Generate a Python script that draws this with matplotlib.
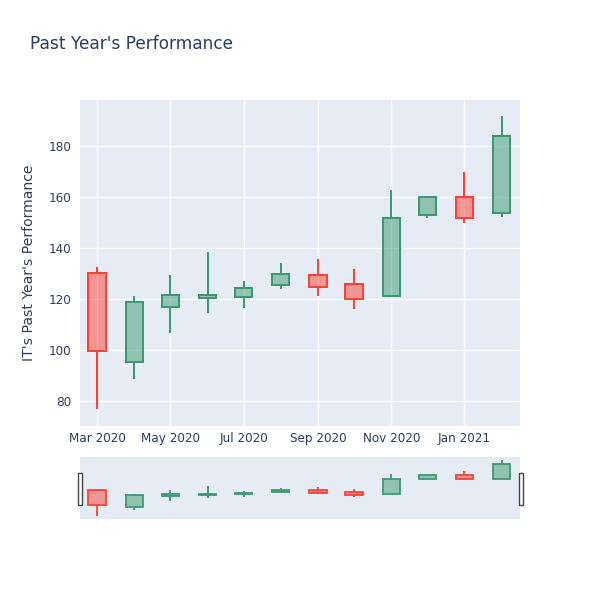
import matplotlib
matplotlib.use("Agg")
import matplotlib.pyplot as plt
import matplotlib.dates as mdates
from matplotlib.patches import Rectangle
import numpy as np
import datetime as dt

plt.rcParams['font.family'] = ['DejaVu Sans']

months = ["2020-03-01", "2020-04-01", "2020-05-01", "2020-06-01", "2020-07-01", "2020-08-01",
          "2020-09-01", "2020-10-01", "2020-11-01", "2020-12-01", "2021-01-01", "2021-02-01"]
open_ = [130.2, 95.4, 117.0, 120.3, 120.8, 125.5, 129.4, 125.9, 121.3, 152.9, 159.9, 153.6]
high = [132.7, 121.3, 129.5, 138.5, 127.1, 134.2, 135.8, 131.6, 162.7, 160.5, 169.8, 191.8]
low = [76.7, 88.7, 106.5, 114.4, 116.4, 123.8, 121.2, 116.0, 121.0, 151.9, 149.7, 152.2]
close = [99.5, 118.7, 121.6, 121.5, 124.4, 129.8, 124.8, 119.9, 151.9, 160.1, 151.8, 183.9]

title = "Past Year's Performance"
ylabel = "IT's Past Year's Performance"
ytick_vals = [80, 100, 120, 140, 160, 180]
xtick_dates = ["2020-03-01", "2020-05-01", "2020-07-01", "2020-09-01", "2020-11-01", "2021-01-01"]
xtick_labels = ["Mar 2020", "May 2020", "Jul 2020", "Sep 2020", "Nov 2020", "Jan 2021"]

INC = "#3D9970"
DEC = "#FF4136"
BG = "#E5ECF6"
TXT = "#2a3f5f"

x = mdates.date2num([dt.datetime.strptime(m, "%Y-%m-%d") for m in months])
o = np.array(open_); h = np.array(high); l = np.array(low); c = np.array(close)

fig = plt.figure(figsize=(6, 6), dpi=100)
fig.patch.set_facecolor("white")

ax = fig.add_axes([80/600, 1-426/600, 440/600, 326/600])
rs = fig.add_axes([80/600, 1-519/600, 440/600, 62/600])

def draw(a, lw):
    width = 14.5
    for xi, oi, hi, li, ci in zip(x, o, h, l, c):
        col = INC if ci >= oi else DEC
        top = max(oi, ci); bot = min(oi, ci)
        a.vlines(xi, top, hi, color=col, lw=lw, zorder=3)
        a.vlines(xi, li, bot, color=col, lw=lw, zorder=3)
        a.bar(xi, top - bot, bottom=bot, width=width, facecolor=matplotlib.colors.to_rgba(col, 0.5),
              edgecolor=col, linewidth=lw, zorder=4)

xmin = x[0] - 14.3
xmax = x[-1] + 15.3
ymin, ymax = 70.2, 198.0

for a in (ax, rs):
    a.set_facecolor(BG)
    for s in a.spines.values():
        s.set_visible(False)
    a.set_xlim(xmin, xmax)
    a.set_ylim(ymin, ymax)

draw(ax, 1.44)
draw(rs, 1.3)

ax.set_axisbelow(True)
ax.set_yticks(ytick_vals)
ax.set_yticklabels([str(v) for v in ytick_vals])
xt = mdates.date2num([dt.datetime.strptime(d, "%Y-%m-%d") for d in xtick_dates])
ax.set_xticks(xt)
ax.set_xticklabels(xtick_labels)
ax.grid(True, color="white", linewidth=1)
ax.tick_params(axis="both", length=0, labelsize=8.64, labelcolor=TXT, pad=6)
ax.tick_params(axis="x", pad=4)
ax.set_ylabel(ylabel, fontsize=10.08, color=TXT, labelpad=9)

rs.set_xticks([]); rs.set_yticks([])

# range slider handles
for hx in (77.5/600, 518.5/600):
    fig.add_artist(Rectangle((hx, 1-505/600), 4/600, 32/600, transform=fig.transFigure,
                             facecolor="white", edgecolor="#444444", linewidth=1.0))

fig.text(30/600, 1-44/600, title, fontsize=12.24, color=TXT, va="center", ha="left")

fig.savefig("out.png", dpi=100)
